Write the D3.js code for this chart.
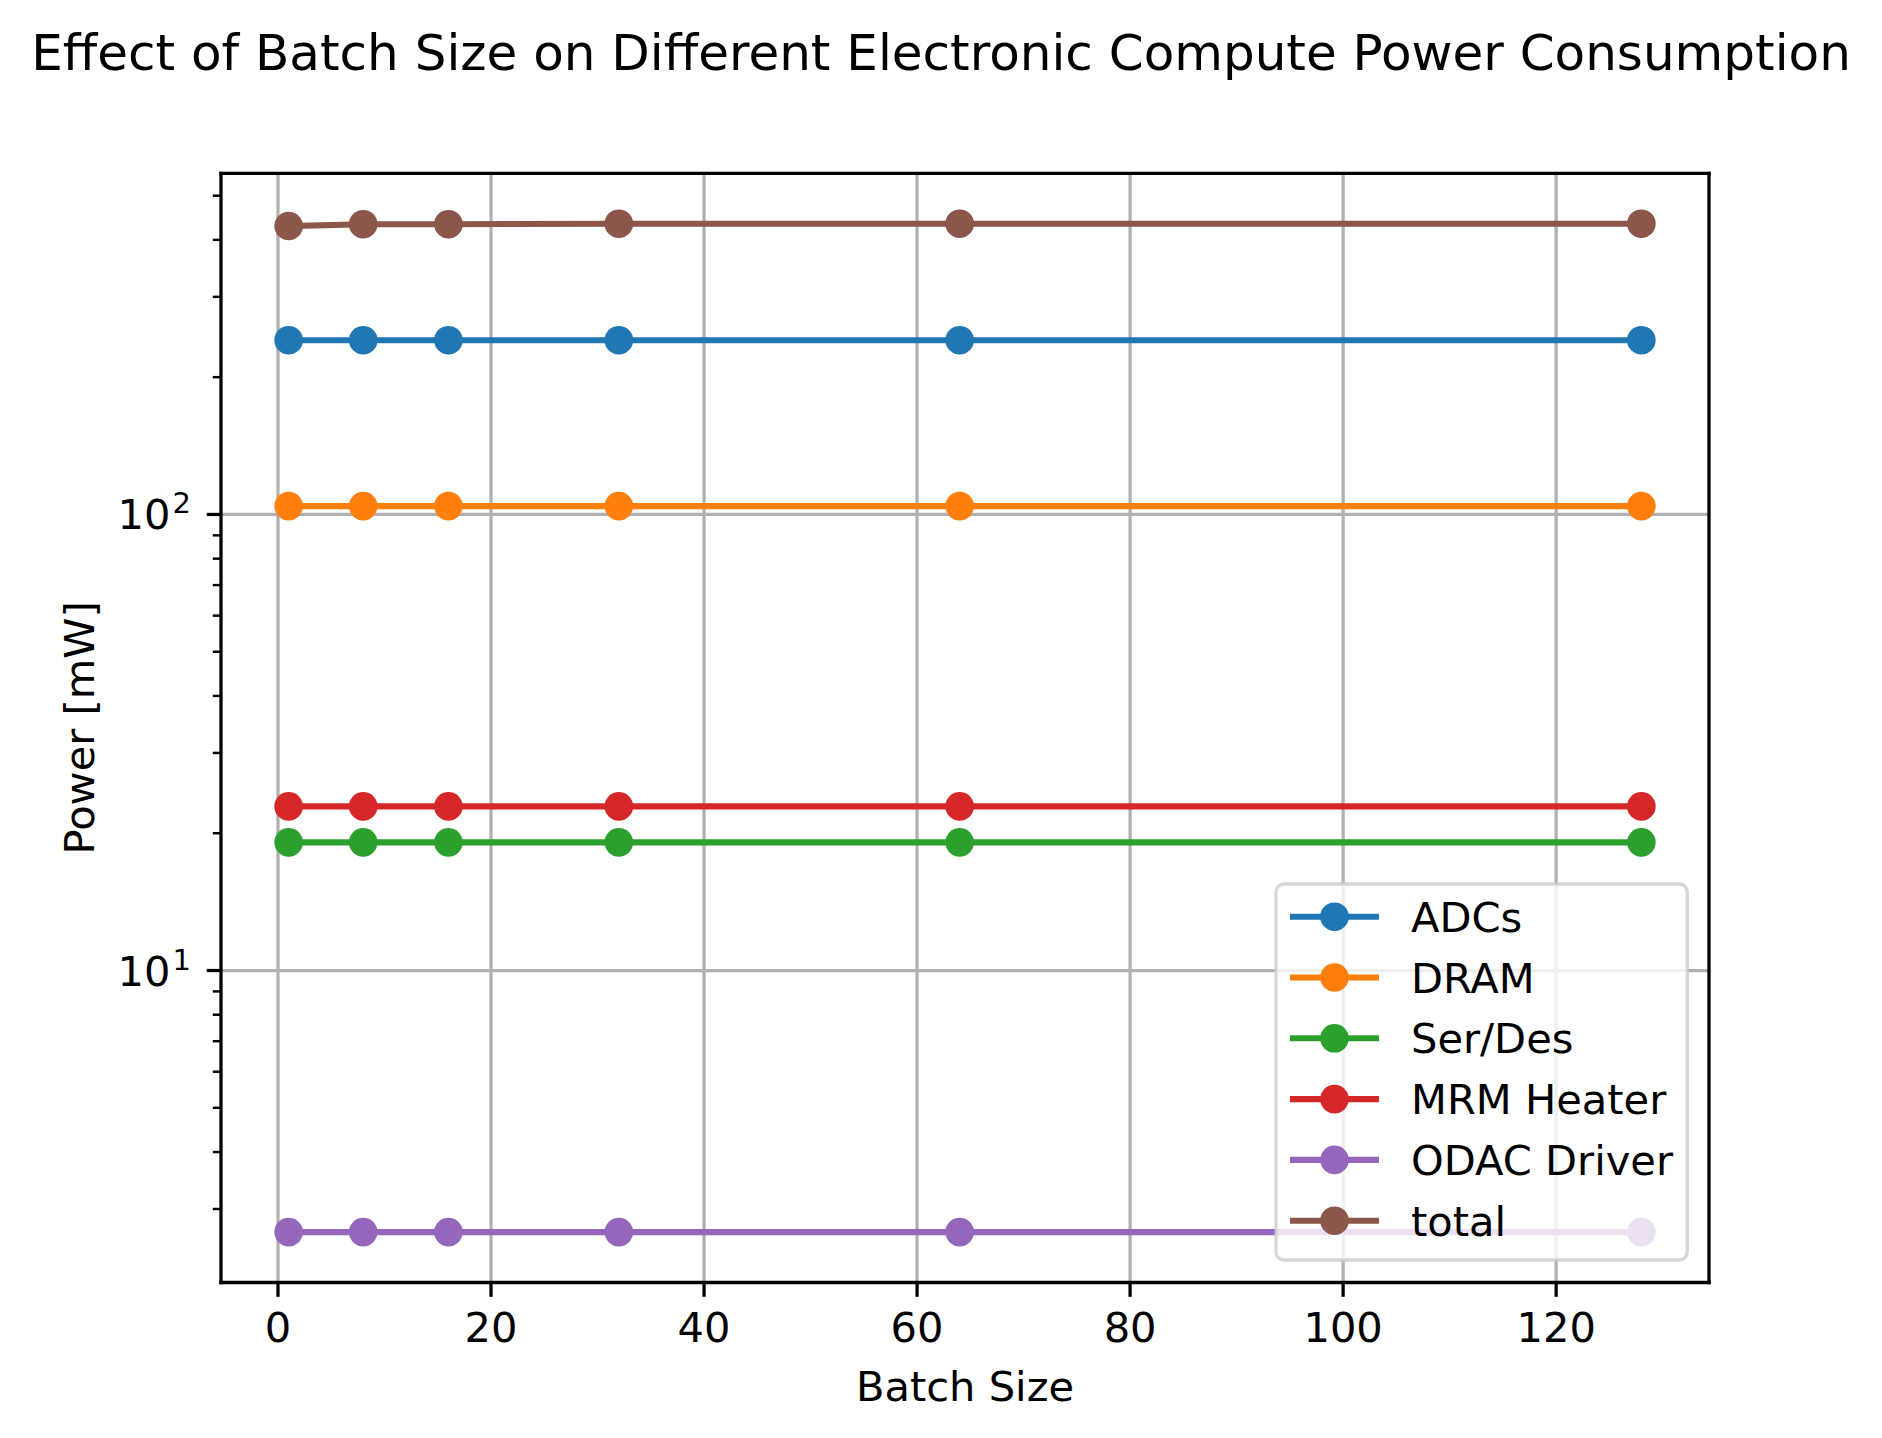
<!DOCTYPE html>
<html><head><meta charset="utf-8">
<script src="https://cdn.jsdelivr.net/npm/d3@7"></script>
<style>body{margin:0;background:#fff} text{font-family:"DejaVu Sans",sans-serif;fill:#000}</style>
</head><body><svg id="c" width="1882" height="1438"></svg>
<script>
const batchSizes = [1, 8, 16, 32, 64, 128];
const seriesNames = ["ADCs", "DRAM", "Ser/Des", "MRM Heater", "ODAC Driver", "total"];
const adcs = [241, 241, 241, 241, 241, 241];
const dram = [104.3, 104.3, 104.3, 104.3, 104.3, 104.3];
const serDes = [19.1, 19.1, 19.1, 19.1, 19.1, 19.1];
const mrmHeater = [22.9, 22.9, 22.9, 22.9, 22.9, 22.9];
const odacDriver = [2.67, 2.67, 2.67, 2.67, 2.67, 2.67];
const total = [429, 433, 433, 434, 434, 434];
const seriesColors = ["#1f77b4", "#ff7f0e", "#2ca02c", "#d62728", "#9467bd", "#8c564b"];
const xTickValues = [0, 20, 40, 60, 80, 100, 120];
const yMajorTickValues = [10, 100];
const yMajorTickExponents = ["1", "2"];
const titleText = "Effect of Batch Size on Different Electronic Compute Power Consumption";
const xLabelText = "Batch Size";
const yLabelText = "Power [mW]";

const seriesValues = [adcs, dram, serDes, mrmHeater, odacDriver, total];

const W = 1882, H = 1438;
const L = 221, R = 1709, T = 173.3, B = 1282.5;
const svg = d3.select("#c");

// domains with matplotlib-like 5% margins
const xMin = d3.min(batchSizes), xMax = d3.max(batchSizes);
const xPad = (xMax - xMin) * 0.05;
const x = d3.scaleLinear().domain([xMin - xPad, xMax + xPad]).range([L, R]);
const allV = seriesValues.flat();
const lmin = Math.log10(d3.min(allV)), lmax = Math.log10(d3.max(allV));
const lpad = (lmax - lmin) * 0.05;
const y = d3.scaleLog().domain([Math.pow(10, lmin - lpad), Math.pow(10, lmax + lpad)]).range([B, T]);

const lw = 3.27;
const mr = 14.3;
// grid
const g = svg.append("g");
xTickValues.forEach(v => {
  g.append("line").attr("x1", x(v)).attr("x2", x(v)).attr("y1", T).attr("y2", B)
    .attr("stroke", "#b0b0b0").attr("stroke-width", lw);
});
yMajorTickValues.forEach(v => {
  g.append("line").attr("x1", L).attr("x2", R).attr("y1", y(v)).attr("y2", y(v))
    .attr("stroke", "#b0b0b0").attr("stroke-width", lw);
});

// series
const line = d3.line().x((d, i) => x(batchSizes[i])).y(d => y(d));
seriesValues.forEach((vals, si) => {
  const sg = svg.append("g");
  sg.append("path").attr("d", line(vals)).attr("fill", "none")
    .attr("stroke", seriesColors[si]).attr("stroke-width", 6.1).attr("stroke-linejoin", "round").attr("stroke-linecap", "square");
  sg.selectAll("circle").data(vals).join("circle")
    .attr("cx", (d, i) => x(batchSizes[i])).attr("cy", d => y(d)).attr("r", mr)
    .attr("fill", seriesColors[si]);
});

// spines
const sp = svg.append("g").attr("stroke", "#000").attr("stroke-width", lw).attr("stroke-linecap", "square");
sp.append("line").attr("x1", L).attr("x2", R).attr("y1", T).attr("y2", T);
sp.append("line").attr("x1", L).attr("x2", R).attr("y1", B).attr("y2", B);
sp.append("line").attr("x1", L).attr("x2", L).attr("y1", T).attr("y2", B);
sp.append("line").attr("x1", R).attr("x2", R).attr("y1", T).attr("y2", B);

// x ticks
const fs = 41.6;
xTickValues.forEach(v => {
  svg.append("line").attr("x1", x(v)).attr("x2", x(v)).attr("y1", B).attr("y2", B + 14.3)
    .attr("stroke", "#000").attr("stroke-width", lw);
  svg.append("text").attr("x", x(v)).attr("y", 1342).attr("text-anchor", "middle")
    .attr("font-size", fs).text(v);
});

// y major ticks
yMajorTickValues.forEach((v, i) => {
  svg.append("line").attr("x1", L - 14.3).attr("x2", L).attr("y1", y(v)).attr("y2", y(v))
    .attr("stroke", "#000").attr("stroke-width", lw);
  const t = svg.append("text").attr("x", 191).attr("y", y(v) + 15).attr("text-anchor", "end").attr("font-size", fs);
  t.append("tspan").text("10");
  t.append("tspan").attr("dy", -16).attr("dx", 2).attr("font-size", 29).text(yMajorTickExponents[i]);
});
// y minor ticks
const [d0, d1] = y.domain();
for (let e = Math.floor(Math.log10(d0)); e <= Math.ceil(Math.log10(d1)); e++) {
  for (let k = 2; k <= 9; k++) {
    const v = k * Math.pow(10, e);
    if (v >= d0 && v <= d1) {
      svg.append("line").attr("x1", L - 8.2).attr("x2", L).attr("y1", y(v)).attr("y2", y(v))
        .attr("stroke", "#000").attr("stroke-width", 2.45);
    }
  }
}

// labels
svg.append("text").attr("x", (L + R) / 2).attr("y", 1401).attr("text-anchor", "middle")
  .attr("font-size", fs).text(xLabelText);
svg.append("text").attr("transform", `translate(93.5,${(T + B) / 2}) rotate(-90)`)
  .attr("text-anchor", "middle").attr("font-size", fs).text(yLabelText);
svg.append("text").attr("x", W / 2).attr("y", 70).attr("text-anchor", "middle")
  .attr("font-size", 50).text(titleText);

// legend
const lg = svg.append("g");
lg.append("rect").attr("x", 1276).attr("y", 884).attr("width", 1687.3 - 1276).attr("height", 1260 - 884)
  .attr("rx", 8).attr("ry", 8).attr("fill", "#fff").attr("fill-opacity", 0.8)
  .attr("stroke", "#cccccc").attr("stroke-opacity", 0.8).attr("stroke-width", lw);
seriesNames.forEach((name, i) => {
  const cy = 916.7 + i * 60.8;
  lg.append("line").attr("x1", 1290).attr("x2", 1379).attr("y1", cy).attr("y2", cy)
    .attr("stroke", seriesColors[i]).attr("stroke-width", 6.1);
  lg.append("circle").attr("cx", 1334.5).attr("cy", cy).attr("r", mr).attr("fill", seriesColors[i]);
  lg.append("text").attr("x", 1411).attr("y", cy + 15).attr("font-size", fs).text(name);
});
</script></body></html>
